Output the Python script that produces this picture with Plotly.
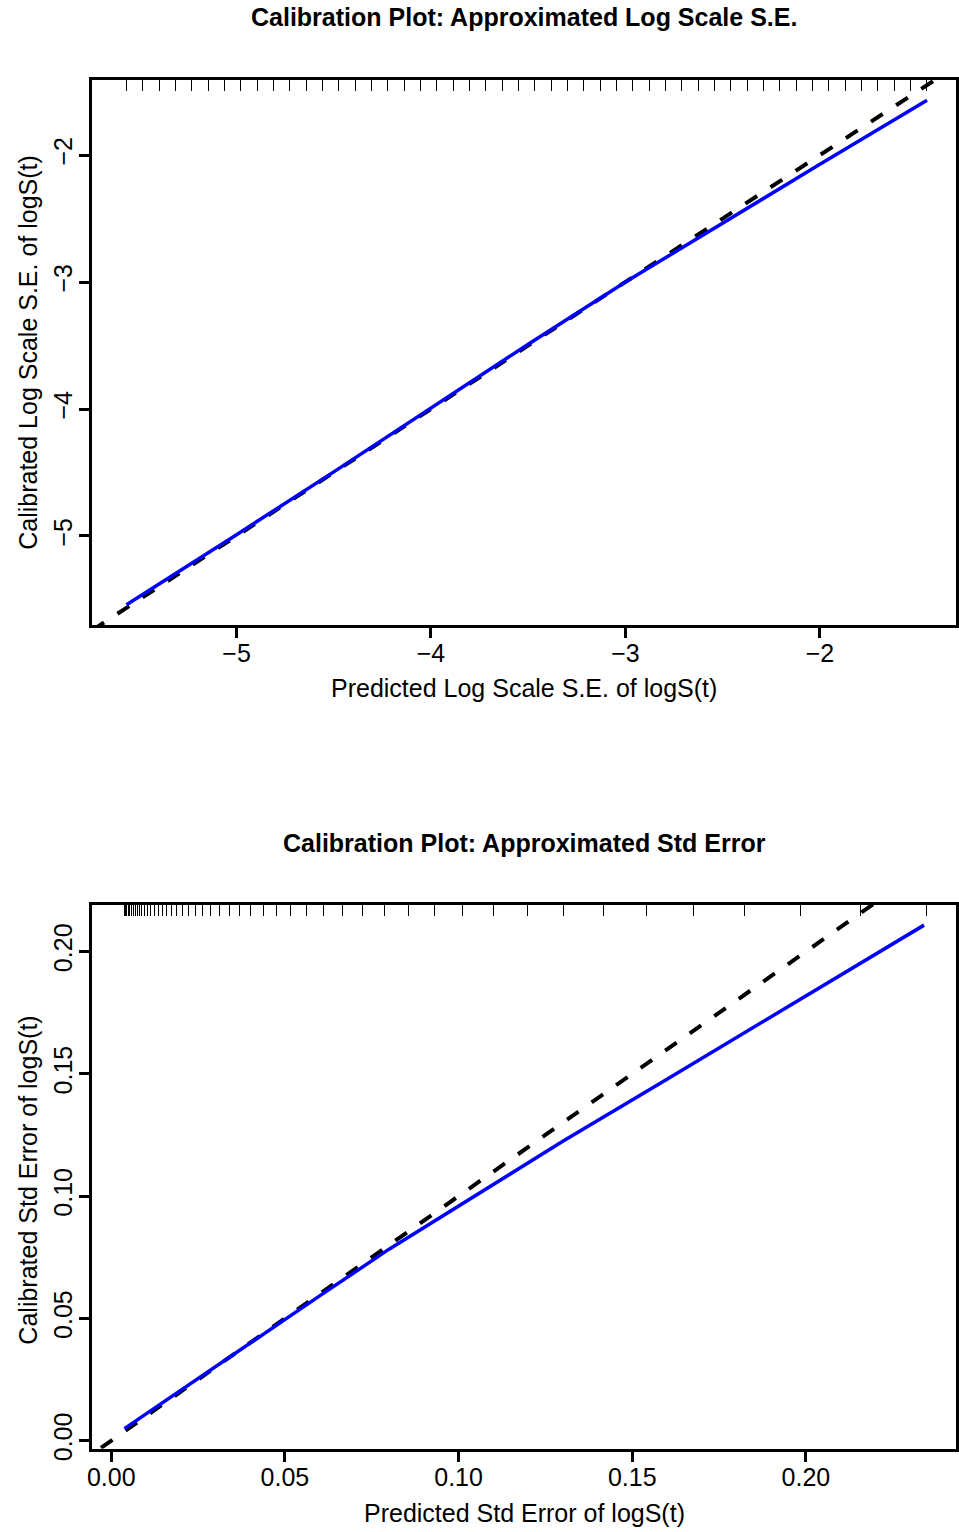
import numpy as np
import plotly.graph_objects as go

# rug: predicted log-scale S.E. values (top margin ticks)
rug_log = [-5.566, -5.482, -5.398, -5.314, -5.230, -5.146, -5.062, -4.978, -4.894, -4.810,
           -4.726, -4.642, -4.558, -4.474, -4.390, -4.306, -4.222, -4.138, -4.054, -3.970,
           -3.886, -3.802, -3.718, -3.634, -3.550, -3.466, -3.382, -3.298, -3.214, -3.130,
           -3.046, -2.962, -2.878, -2.794, -2.710, -2.626, -2.542, -2.458, -2.374, -2.290,
           -2.206, -2.122, -2.038, -1.954, -1.870, -1.786, -1.702, -1.618, -1.534, -1.450]
rug_se = list(np.exp(rug_log))

# calibration curve, log scale
log_pred = [-5.566, -5.0, -4.5, -4.0, -3.5, -3.0, -2.5, -2.0, -1.449]
log_cal = [-5.541, -4.99, -4.495, -3.995, -3.49, -3.0, -2.535, -2.073, -1.569]

# calibration curve, std error scale
se_pred = [0.0038, 0.02, 0.04, 0.06, 0.08, 0.10, 0.13, 0.16, 0.20, 0.234]
se_cal = [0.0049, 0.0206, 0.0399, 0.0592, 0.0783, 0.0960, 0.1224, 0.1478, 0.1820, 0.2108]

# reference identity lines
ref_log = [-6.0, -1.0]
ref_se = [-0.01, 0.25]

W, H = 959, 1532
FONT = "Liberation Sans, Arial, sans-serif"


def py(p):
    return 1 - p * 1.0077 / H


fig = go.Figure()

fig.add_trace(go.Scatter(x=ref_log, y=ref_log, mode="lines",
                         line=dict(color="black", width=4, dash="14px,16px"),
                         xaxis="x", yaxis="y", showlegend=False))
fig.add_trace(go.Scatter(x=log_pred, y=log_cal, mode="lines",
                         line=dict(color="#0000ff", width=3.5),
                         xaxis="x", yaxis="y", showlegend=False))
fig.add_trace(go.Scatter(x=ref_se, y=ref_se, mode="lines",
                         line=dict(color="black", width=4, dash="14px,16px"),
                         xaxis="x2", yaxis="y2", showlegend=False))
fig.add_trace(go.Scatter(x=se_pred, y=se_cal, mode="lines",
                         line=dict(color="#0000ff", width=3.5),
                         xaxis="x2", yaxis="y2", showlegend=False))
# invisible traces to host the rug axes
fig.add_trace(go.Scatter(x=[rug_log[0]], y=[None], mode="lines", xaxis="x3", yaxis="y",
                         showlegend=False, hoverinfo="skip"))
fig.add_trace(go.Scatter(x=[rug_se[0]], y=[None], mode="lines", xaxis="x4", yaxis="y2",
                         showlegend=False, hoverinfo="skip"))

xdom = [88 / W, 957 / W]
dom1 = [py(625), py(80)]
dom2 = [py(1449), py(905)]

xr1 = [-5.741, -1.300]
yr1 = [-5.700, -1.409]
xr2 = [-0.0054, 0.2432]
yr2 = [-0.0033, 0.2191]

base = dict(showline=True, linewidth=3, linecolor="black", mirror=True,
            ticks="outside", ticklen=10, tickwidth=3, tickcolor="black",
            showgrid=False, zeroline=False,
            tickfont=dict(family=FONT, size=25, color="black"))

rug = dict(side="top", showline=False, showgrid=False, zeroline=False,
           ticks="inside", ticklen=11, tickwidth=1, tickcolor="black",
           showticklabels=False, tickmode="array")

fig.update_layout(
    width=W, height=H,
    margin=dict(l=0, r=0, t=0, b=0),
    paper_bgcolor="white", plot_bgcolor="white",
    font=dict(family=FONT, size=25, color="black"),
    xaxis=dict(base, domain=xdom, anchor="y", range=xr1, ticklabelstandoff=-6,
               tickmode="array", tickvals=[-5, -4, -3, -2]),
    yaxis=dict(base, domain=dom1, anchor="x", range=yr1, tickangle=-90, ticklabelstandoff=-3,
               tickmode="array", tickvals=[-5, -4, -3, -2]),
    xaxis2=dict(base, domain=xdom, anchor="y2", range=xr2, ticklabelstandoff=-6,
                tickmode="array", tickvals=[0, 0.05, 0.10, 0.15, 0.20], tickformat=".2f"),
    yaxis2=dict(base, domain=dom2, anchor="x2", range=yr2, tickangle=-90, ticklabelstandoff=-3,
                tickmode="array", tickvals=[0, 0.05, 0.10, 0.15, 0.20], tickformat=".2f"),
    xaxis3=dict(rug, overlaying="x", anchor="y", range=xr1, tickvals=rug_log),
    xaxis4=dict(rug, overlaying="x2", anchor="y2", range=xr2, tickvals=rug_se),
)

cx = (88 + 957) / 2 / W
ann = [
    dict(text="<b>Calibration Plot: Approximated Log Scale S.E.</b>", x=cx, y=py(17)),
    dict(text="<b>Calibration Plot: Approximated Std Error</b>", x=cx, y=py(843)),
    dict(text="Predicted Log Scale S.E. of logS(t)", x=cx, y=py(688)),
    dict(text="Predicted Std Error of logS(t)", x=cx, y=py(1513)),
    dict(text="Calibrated Log Scale S.E. of logS(t)", x=23 / W, y=py(352), textangle=-90),
    dict(text="Calibrated Std Error of logS(t)", x=23 / W, y=py(1180), textangle=-90),
]
for a in ann:
    fig.add_annotation(xref="paper", yref="paper", showarrow=False,
                       xanchor="center", yanchor="middle",
                       font=dict(family=FONT, size=25, color="black"), **a)

page_js = (
    "var d=document.documentElement,b=document.body;"
    "d.style.margin='0';d.style.padding='0';d.style.overflow='hidden';"
    "b.style.margin='0';b.style.padding='0';b.style.overflow='hidden';"
)
fig.write_html("out.html", config={"displayModeBar": False}, post_script=page_js)
